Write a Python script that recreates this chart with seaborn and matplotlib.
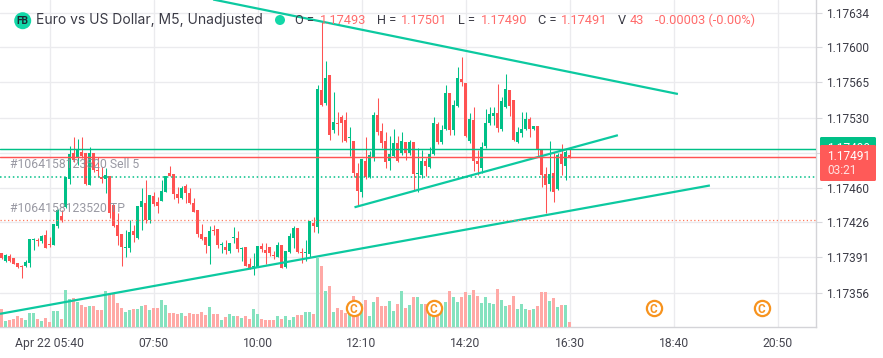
import numpy as np
import pandas as pd
import matplotlib
matplotlib.use("Agg")
import matplotlib.pyplot as plt
from matplotlib.patches import Circle, FancyBboxPatch
import seaborn as sns

# prices are points above 1.17000, one value per 5 minute bar
opens = [395,387,392,390,385,382,382,385,408,408,407,413,404,403,422,432,441,469,495,490,
         496,495,463,495,478,471,469,472,443,423,414,400,400,417,410,441,445,428,452,446,
         447,456,475,474,454,450,462,455,445,438,414,411,402,418,419,403,401,397,410,410,
         399,401,384,381,381,402,398,401,393,391,403,381,396,410,420,396,395,394,425,421,
         557,545,572,518,525,531,528,510,507,475,456,487,471,491,533,517,507,487,492,505,
         495,506,495,506,474,473,487,481,494,524,506,519,554,518,542,568,564,507,528,487,
         480,502,525,532,535,519,541,557,548,506,515,519,529,519,522,498,474,464,475,459,
         494,482,493]
closes = [390,393,387,384,381,381,386,409,409,407,412,400,403,424,438,428,471,494,488,498,
          492,464,495,478,477,469,473,435,422,412,401,401,416,413,442,447,428,453,444,442,
          457,472,472,454,450,460,455,445,436,414,409,403,417,417,403,404,398,405,411,399,
          400,382,379,382,402,399,395,395,392,403,380,397,412,420,396,395,396,427,422,558,
          543,569,513,526,524,525,507,511,475,457,489,471,493,533,516,505,486,494,505,487,
          507,495,506,474,475,487,482,494,525,506,518,554,518,543,569,565,512,529,487,484,
          501,525,534,535,520,547,558,542,508,516,519,529,519,522,498,473,463,474,456,493,
          484,496,491]
highs = [395,394,394,390,385,383,388,409,410,410,413,418,411,424,439,438,471,502,511,509,
         511,495,501,495,491,481,480,472,443,435,414,418,428,423,442,460,468,453,456,451,
         468,472,482,474,461,462,464,460,450,438,424,411,422,423,419,406,408,405,421,417,
         401,401,390,395,402,405,405,401,397,406,403,397,415,422,420,400,408,427,431,562,
         625,586,572,555,536,533,536,521,507,485,489,511,497,536,550,525,516,512,519,512,
         516,506,508,506,500,498,490,501,531,526,523,562,554,548,580,590,564,535,541,498,
         506,539,541,541,563,551,573,557,548,521,536,536,531,522,522,498,481,507,496,495,
         504,498,501]
lows = [389,386,386,384,380,370,381,381,398,402,405,400,401,403,420,426,440,464,486,483,
        490,463,463,476,471,465,455,430,421,403,382,391,396,406,409,418,425,425,442,435,
        447,456,472,449,445,449,445,444,436,411,408,395,384,413,400,395,394,395,405,396,
        387,382,379,373,381,396,384,392,389,391,380,380,395,400,395,385,387,391,416,415,
        542,543,508,515,513,506,506,492,471,443,451,469,470,487,513,500,480,478,491,486,
        493,488,493,458,456,470,472,480,493,504,504,518,513,513,541,561,511,505,477,473,
        475,500,523,523,516,517,540,532,507,505,511,518,511,518,491,461,435,457,446,458,
        473,468,490]
volumes = [152,52,63,72,92,80,57,123,123,72,49,80,40,141,135,66,316,244,250,212,
           192,169,181,178,143,143,307,281,293,204,161,126,143,152,152,184,187,143,161,161,
           230,192,121,121,109,121,95,121,112,112,126,100,169,109,115,60,86,115,95,95,
           80,92,66,152,115,66,60,60,60,98,72,92,63,86,100,100,126,126,109,594,
           522,307,350,126,161,143,118,143,264,143,201,230,92,212,255,178,178,221,135,195,
           307,161,187,255,255,195,195,143,115,158,135,212,307,255,212,255,298,273,316,264,
           204,255,204,195,324,230,178,187,264,152,195,152,143,152,178,298,298,221,247,169,
           187,187,43]

tick_bars = [12, 38, 64, 90, 116, 142, 168, 194]
tick_labels = ["Apr 22 05:40", "07:50", "10:00", "12:10", "14:20", "16:30", "18:40", "20:50"]
price_ticks = [634, 600, 565, 530, 495, 460, 426, 391, 356]

# trend lines: (bar, price points) at both ends
trend_lines = [((52.9, 647.5), (169.1, 553.5)),
               ((88.25, 440.8), (154.1, 512.5)),
               ((-0.375, 334.8), (177.1, 462.5))]
order_price = 499
last_price = 491
entry_price = 471
tp_price = 428
event_bars = [88, 108, 163, 190]
event_level = 163

GREEN = "#00C087"
RED = "#FF5252"
LINE = "#0CC9A0"
DOT = "#12D8A8"
ORANGE = "#F7931E"
DARK = "#3B3B46"
GREY = "#8E8E99"

sns.set_theme(style="white")
plt.rcParams["font.family"] = ["Roboto", "DejaVu Sans"]


def pts(v):
    return 1.17 + np.asarray(v, dtype=float) / 1e5


df = pd.DataFrame({"bar": np.arange(len(opens)), "open": pts(opens), "close": pts(closes),
                   "high": pts(highs), "low": pts(lows), "volume": volumes})
df["dir"] = np.where(df["close"] > df["open"], "up", "down")
colors = df["dir"].map({"up": GREEN, "down": RED})

fig = plt.figure(figsize=(8.83, 3.58), dpi=100)
ax = fig.add_axes([0, 31 / 358, 816 / 883, 327 / 358])
vol_ax = ax.twinx()
top_ax = ax.twinx()
vol_ax.patch.set_visible(False)
top_ax.patch.set_visible(False)
ax.set_zorder(1)
vol_ax.set_zorder(2)
top_ax.set_zorder(3)

# volume along the bottom
sns.barplot(data=df, x="bar", y="volume", hue="dir", palette={"up": "#85E2BF", "down": "#FFA9A6"},
            native_scale=True, dodge=False, width=0.75, saturation=1, legend=False, linewidth=0, ax=vol_ax)

# candles
top_ax.vlines(df["bar"], df["low"], df["high"], colors=colors, lw=0.75)
body_low = df[["open", "close"]].min(axis=1)
body_high = df[["open", "close"]].max(axis=1)
top_ax.bar(df["bar"], body_high - body_low, bottom=body_low, width=0.75, color=colors, linewidth=0)

for (x0, p0), (x1, p1) in trend_lines:
    top_ax.plot([x0, x1], pts([p0, p1]), color=LINE, lw=1.6, solid_capstyle="butt")

top_ax.axhline(pts(order_price), color=GREEN, lw=1.05)
top_ax.axhline(pts(last_price), color=RED, lw=1.05)
top_ax.axhline(pts(entry_price), color=GREEN, lw=1.1, ls=(0, (1, 1.8)))
top_ax.axhline(pts(tp_price), color="#FF7A5C", lw=0.9, ls=(0, (1, 2)))

for bar in event_bars:
    vol_ax.scatter([bar], [event_level], s=120, facecolor="white", edgecolor=ORANGE, lw=1.6, zorder=5)
    vol_ax.text(bar, event_level, "C", color=ORANGE, fontsize=8.5, ha="center", va="center_baseline",
                fontweight="bold", zorder=6)

# shared scales: 1 bar = 4 px
for a in (ax, top_ax):
    a.set_ylim(pts(321.7), pts(647.0))
ax.set_xlim(-0.375, 203.625)
vol_ax.set_ylim(0, 327 * 8.6)

for a in (vol_ax, top_ax):
    a.set_yticks([])
    a.set_ylabel("")
    a.set_xlabel("")
    for s in a.spines.values():
        s.set_visible(False)

ax.yaxis.tick_right()
ax.set_yticks(pts(price_ticks))
# 1.17495 sits behind the price tags in the reference, only its grid line shows
ax.set_yticklabels(["" if p == 495 else f"{1.17 + p / 1e5:.5f}" for p in price_ticks])
ax.set_xticks(tick_bars)
ax.set_xticklabels(tick_labels)
ax.set_xlabel("")
ax.grid(True, color="#EBEBEE", lw=0.95)
ax.set_axisbelow(True)
ax.tick_params(axis="y", length=4, width=0.8, color="#D8D8DC", labelsize=8.6, labelcolor=DARK, pad=3.5,
               labelright=True, labelleft=False, right=True, left=False)
ax.tick_params(axis="x", length=0, labelsize=8.7, labelcolor="#45454F", pad=7)
for side in ("left", "top"):
    ax.spines[side].set_visible(False)
for side in ("right", "bottom"):
    ax.spines[side].set_color("#D4D4D8")
    ax.spines[side].set_linewidth(1.0)

# everything placed by pixel: header, order tags, price tags
over = fig.add_axes([0, 0, 1, 1], zorder=10)
over.set_xlim(0, 883)
over.set_ylim(358, 0)
over.axis("off")

over.add_patch(Circle((22.7, 20.7), 8.5, color=DOT, lw=0))
over.text(22.7, 20.9, "FB", fontsize=7.4, fontweight="bold", color="#1B2A33", ha="center", va="center")
over.text(36, 20, "Euro vs US Dollar, M5, Unadjusted", fontsize=10, family="Inter", color=DARK, va="center")
over.add_patch(Circle((280, 20), 5, color=DOT, lw=0))

header = [(295, "O =", DARK), (320, "1.17493", "#FF6B6B"), (377, "H =", DARK), (401, "1.17501", "#FF6B6B"),
          (458, "L =", DARK), (481, "1.17490", "#FF6B6B"), (538, "C =", DARK), (561, "1.17491", "#FF6B6B"),
          (618, "V", DARK), (630, "43", "#FF6B6B"), (655, "-0.00003 (-0.00%)", "#FF6B6B")]
for x, s, c in header:
    over.text(x, 20, s, fontsize=9.2, color=c, va="center")

over.text(10, 165, "#1064158123520 Sell 5", fontsize=8.8, color=GREY, alpha=0.9, va="center")
over.text(10, 208, "#1064158123520 TP", fontsize=8.8, color=GREY, alpha=0.9, va="center")

over.add_patch(FancyBboxPatch((820, 137), 56, 24, boxstyle="round,pad=0,rounding_size=1.5", color=GREEN, lw=0))
over.text(827, 149, f"{1.17 + order_price / 1e5:.5f}", fontsize=8.6, color="white", va="center", zorder=3)
over.add_patch(FancyBboxPatch((820, 145), 56, 36, boxstyle="round,pad=0,rounding_size=1.5", color="#FF5A58",
                              lw=0, zorder=4))
over.text(827, 156.5, "1.17491", fontsize=8.6, color="white", va="center", zorder=5)
over.text(827, 170.5, "03:21", fontsize=8.6, color="#FFE2E1", va="center", zorder=5)

fig.savefig("out.png", dpi=100)
